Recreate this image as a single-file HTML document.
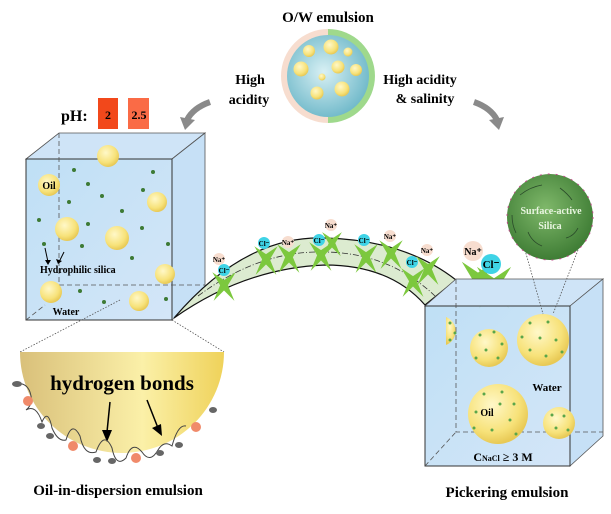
<!DOCTYPE html>
<html><head><meta charset="utf-8"><style>
html,body{margin:0;padding:0;background:#fff;}
svg{display:block;font-family:"Liberation Serif",serif;font-weight:bold;}
</style></head><body>
<svg width="611" height="514" viewBox="0 0 611 514" xmlns="http://www.w3.org/2000/svg">
<defs>
<radialGradient id="drop" cx="40%" cy="35%" r="65%"><stop offset="0" stop-color="#fff8c8"/><stop offset="0.7" stop-color="#f7e27a"/><stop offset="1" stop-color="#e8c955"/></radialGradient>
<radialGradient id="blue" cx="45%" cy="45%" r="60%"><stop offset="0" stop-color="#d8f0f4"/><stop offset="1" stop-color="#6cb7c8"/></radialGradient>
<radialGradient id="green" cx="45%" cy="40%" r="60%"><stop offset="0" stop-color="#7fb86a"/><stop offset="1" stop-color="#3f7d35"/></radialGradient>
<linearGradient id="box" x1="0" y1="0" x2="1" y2="1"><stop offset="0" stop-color="#b8dcf4"/><stop offset="1" stop-color="#cfe3f7"/></linearGradient>
<linearGradient id="hemi" x1="0" y1="0" x2="1" y2="0"><stop offset="0" stop-color="#d9c07a"/><stop offset="0.6" stop-color="#fbf0a8"/><stop offset="1" stop-color="#efd25a"/></linearGradient>
<path id="man" d="M0 -3 L-9 -9 L-3 1 L-8 13 L0 5 L8 13 L3 1 L9 -9 Z" fill="#7cc83e"/>
</defs>

<text x="328" y="22" font-size="15" text-anchor="middle">O/W emulsion</text>
<path d="M328 29 A47 47 0 0 0 328 123 Z" fill="#f7ddcf"/>
<path d="M328 29 A47 47 0 0 1 328 123 Z" fill="#9fd98c"/>
<circle cx="328" cy="76" r="41" fill="url(#blue)"/>
<g fill="url(#drop)">
<circle cx="309" cy="51" r="6"/><circle cx="331" cy="47" r="7.5"/><circle cx="348" cy="52" r="4.5"/>
<circle cx="301" cy="69" r="7.5"/><circle cx="338" cy="67" r="6.5"/><circle cx="356" cy="70" r="6"/>
<circle cx="322" cy="77" r="3.5"/><circle cx="317" cy="93" r="6.5"/><circle cx="342" cy="89" r="7.5"/>
</g>
<text x="250" y="84" font-size="14" text-anchor="middle">High</text>
<text x="249" y="104" font-size="14" text-anchor="middle">acidity</text>
<text x="420" y="84" font-size="14" text-anchor="middle">High acidity</text>
<text x="425" y="103" font-size="14" text-anchor="middle">&amp; salinity</text>
<path d="M210 102 Q193 108 187 120" stroke="#8a8a8a" stroke-width="6" fill="none"/>
<polygon points="180,117 195,120 185,130" fill="#8a8a8a"/>
<path d="M474 102 Q491 108 497 120" stroke="#8a8a8a" stroke-width="6" fill="none"/>
<polygon points="504,117 489,120 499,130" fill="#8a8a8a"/>

<text x="61" y="121" font-size="16">pH:</text>
<rect x="98" y="98" width="20" height="31" fill="#f2481b"/>
<rect x="128" y="98" width="21" height="31" fill="#fa6b46"/>
<text x="108" y="119" font-size="12" text-anchor="middle">2</text>
<text x="139" y="119" font-size="12" text-anchor="middle">2.5</text>

<polygon points="26,159 59,133 205,133 172,159" fill="#cfe4f7" stroke="#555" stroke-width="0.8"/>
<polygon points="172,159 205,133 205,290 172,320" fill="#c6e0f6" stroke="#555" stroke-width="0.8"/>
<rect x="26" y="159" width="146" height="161" fill="url(#box)" fill-opacity="0.9" stroke="#333" stroke-width="1"/>
<path d="M59 133 V285 H205" stroke="#555" stroke-dasharray="5,3" fill="none" stroke-width="0.8"/>
<line x1="26" y1="320" x2="45" y2="305" stroke="#555" stroke-dasharray="5,3" stroke-width="0.8"/>
<g fill="url(#drop)">
<circle cx="108" cy="156" r="11"/><circle cx="49" cy="185" r="11"/><circle cx="157" cy="202" r="10"/>
<circle cx="67" cy="229" r="12"/><circle cx="117" cy="238" r="12"/><circle cx="165" cy="274" r="10"/>
<circle cx="51" cy="292" r="11"/><circle cx="139" cy="301" r="10"/>
</g>
<g fill="#3d7a35">
<circle cx="74" cy="170" r="2"/><circle cx="153" cy="172" r="2"/><circle cx="88" cy="184" r="2"/><circle cx="102" cy="196" r="2"/>
<circle cx="143" cy="190" r="2"/><circle cx="69" cy="202" r="2"/><circle cx="122" cy="211" r="2"/><circle cx="39" cy="220" r="2"/>
<circle cx="88" cy="224" r="2"/><circle cx="142" cy="228" r="2"/><circle cx="44" cy="244" r="2"/><circle cx="82" cy="246" r="2"/>
<circle cx="132" cy="258" r="2"/><circle cx="168" cy="244" r="2"/><circle cx="80" cy="291" r="2"/><circle cx="104" cy="302" r="2"/><circle cx="166" cy="299" r="2"/>
</g>
<text x="49" y="189" font-size="10" text-anchor="middle">Oil</text>
<path d="M45 248 L48 262 M64 252 L59 262" stroke="#000" stroke-width="1"/>
<polygon points="45,260 48,265 51,260" fill="#000"/><polygon points="56,259 58,264 62,261" fill="#000"/>
<text x="40" y="273" font-size="10">Hydrophilic silica</text>
<text x="66" y="315" font-size="10" text-anchor="middle">Water</text>

<line x1="120" y1="300" x2="20" y2="352" stroke="#555" stroke-dasharray="1.5,1.5" stroke-width="0.8"/>
<line x1="172" y1="320" x2="224" y2="352" stroke="#555" stroke-dasharray="1.5,1.5" stroke-width="0.8"/>

<path d="M20 352 H224 A102 101 0 0 1 20 352 Z" fill="url(#hemi)"/>
<text x="122" y="390" font-size="21" text-anchor="middle">hydrogen bonds</text>
<line x1="110" y1="402" x2="107" y2="432" stroke="#000" stroke-width="1.5"/><polygon points="102,430 107,442 112,430" fill="#000"/>
<line x1="147" y1="400" x2="158" y2="428" stroke="#000" stroke-width="1.5"/><polygon points="152,428 162,436 161,424" fill="#000"/>
<path d="M16 384 q10 -2 14 8 q4 12 -4 18 q10 -6 16 12 q6 -14 10 6 q6 14 14 12 q6 -20 14 -4 q4 20 16 16 q8 -22 16 -4 q4 20 14 10 q6 -18 16 -6 q8 12 16 -2 q6 -10 14 -4 q6 -22 14 -20" stroke="#444" stroke-width="1" fill="none"/>
<g fill="#f08a6a"><circle cx="28" cy="401" r="5"/><circle cx="73" cy="446" r="5"/><circle cx="136" cy="458" r="5"/><circle cx="196" cy="427" r="5"/></g>
<g fill="#666"><ellipse cx="17" cy="384" rx="5" ry="3"/><ellipse cx="41" cy="426" rx="4" ry="3"/><ellipse cx="50" cy="436" rx="4" ry="3"/><ellipse cx="97" cy="460" rx="4" ry="3"/><ellipse cx="112" cy="461" rx="4" ry="3"/><ellipse cx="160" cy="453" rx="4" ry="3"/><ellipse cx="179" cy="445" rx="4" ry="3"/><ellipse cx="213" cy="410" rx="4" ry="3"/></g>
<text x="118" y="495" font-size="15" text-anchor="middle">Oil-in-dispersion emulsion</text>

<path d="M174 318 Q245 235 325 238 Q405 240 456 280 L425 305 Q390 265 325 265 Q245 268 174 318 Z" fill="#dcebd0" stroke="#111" stroke-width="1.2"/>
<path d="M198 296 Q260 250 325 252 Q390 253 435 296" stroke="#333" stroke-dasharray="6,2,1,2" fill="none" stroke-width="0.8"/>
<use href="#man" transform="translate(224,284) scale(1.3)"/>
<use href="#man" transform="translate(266,258) scale(1.3)"/>
<use href="#man" transform="translate(289,256) scale(1.3)"/>
<use href="#man" transform="translate(321,254) scale(1.3)"/>
<use href="#man" transform="translate(332,242) scale(1.1)"/>
<use href="#man" transform="translate(366,256) scale(1.3)"/>
<use href="#man" transform="translate(391,252) scale(1.3)"/>
<use href="#man" transform="translate(413,280) scale(1.3)"/>
<use href="#man" transform="translate(428,268) scale(1.3)"/>
<use href="#man" transform="translate(478,278) scale(1.8)"/>
<use href="#man" transform="translate(494,284) scale(1.9)"/>
<g font-size="7" text-anchor="middle">
<circle cx="219" cy="259" r="6" fill="#f7ddcf"/><text x="219" y="262">Na⁺</text>
<circle cx="224" cy="270" r="6" fill="#3fd3e6"/><text x="224" y="273">Cl⁻</text>
<circle cx="264" cy="243" r="6" fill="#3fd3e6"/><text x="264" y="246">Cl⁻</text>
<circle cx="288" cy="242" r="6" fill="#f7ddcf"/><text x="288" y="245">Na⁺</text>
<circle cx="319" cy="240" r="6" fill="#3fd3e6"/><text x="319" y="243">Cl⁻</text>
<circle cx="331" cy="225" r="6" fill="#f7ddcf"/><text x="331" y="228">Na⁺</text>
<circle cx="364" cy="240" r="6" fill="#3fd3e6"/><text x="364" y="243">Cl⁻</text>
<circle cx="390" cy="236" r="6" fill="#f7ddcf"/><text x="390" y="239">Na⁺</text>
<circle cx="412" cy="262" r="6" fill="#3fd3e6"/><text x="412" y="265">Cl⁻</text>
<circle cx="427" cy="250" r="6" fill="#f7ddcf"/><text x="427" y="253">Na⁺</text>
</g>
<circle cx="473" cy="251" r="10" fill="#f7ddcf"/><text x="473" y="255" font-size="10" text-anchor="middle">Na⁺</text>
<circle cx="491" cy="264" r="10" fill="#3fd3e6"/><text x="491" y="268" font-size="11" text-anchor="middle">Cl⁻</text>

<polygon points="425,306 456,279 603,279 570,306" fill="#cfe4f7" stroke="#555" stroke-width="0.8"/>
<polygon points="570,306 603,279 603,436 570,466" fill="#c6e0f6" stroke="#555" stroke-width="0.8"/>
<rect x="425" y="306" width="145" height="160" fill="url(#box)" fill-opacity="0.9" stroke="#333" stroke-width="1"/>
<path d="M456 279 V432 H603" stroke="#555" stroke-dasharray="5,3" fill="none" stroke-width="0.8"/>
<line x1="425" y1="466" x2="456" y2="432" stroke="#555" stroke-dasharray="5,3" stroke-width="0.8"/>
<g fill="url(#drop)">
<path d="M446 317 A15 15 0 0 1 446 345 Z"/>
<circle cx="489" cy="348" r="19"/><circle cx="543" cy="340" r="26"/><circle cx="498" cy="414" r="30"/><circle cx="559" cy="423" r="16"/>
</g>
<g fill="#5aa64a">
<circle cx="450" cy="323" r="1.5"/><circle cx="455" cy="333" r="1.5"/><circle cx="450" cy="340" r="1.5"/>
<circle cx="480" cy="335" r="1.5"/><circle cx="494" cy="332" r="1.5"/><circle cx="486" cy="350" r="1.5"/><circle cx="498" cy="358" r="1.5"/><circle cx="476" cy="358" r="1.5"/><circle cx="502" cy="344" r="1.5"/>
<circle cx="530" cy="323" r="1.5"/><circle cx="548" cy="322" r="1.5"/><circle cx="540" cy="338" r="1.5"/><circle cx="556" cy="340" r="1.5"/><circle cx="530" cy="350" r="1.5"/><circle cx="546" cy="356" r="1.5"/><circle cx="522" cy="337" r="1.5"/><circle cx="562" cy="352" r="1.5"/>
<circle cx="484" cy="394" r="1.5"/><circle cx="502" cy="392" r="1.5"/><circle cx="514" cy="404" r="1.5"/><circle cx="476" cy="412" r="1.5"/><circle cx="510" cy="420" r="1.5"/><circle cx="492" cy="430" r="1.5"/><circle cx="516" cy="434" r="1.5"/><circle cx="474" cy="428" r="1.5"/><circle cx="500" cy="404" r="1.5"/>
<circle cx="552" cy="415" r="1.5"/><circle cx="564" cy="416" r="1.5"/><circle cx="556" cy="428" r="1.5"/><circle cx="568" cy="430" r="1.5"/>
</g>
<text x="547" y="391" font-size="11" text-anchor="middle">Water</text>
<text x="487" y="416" font-size="10" text-anchor="middle">Oil</text>
<text x="503" y="461" font-size="12" text-anchor="middle">C<tspan font-size="8">NaCl</tspan> ≥ 3 M</text>
<text x="507" y="497" font-size="15" text-anchor="middle">Pickering emulsion</text>

<line x1="525" y1="250" x2="543" y2="314" stroke="#555" stroke-dasharray="1.5,1.5" stroke-width="0.8"/>
<line x1="578" y1="250" x2="553" y2="314" stroke="#555" stroke-dasharray="1.5,1.5" stroke-width="0.8"/>
<circle cx="550" cy="217" r="43" fill="url(#green)" stroke="#c04a8a" stroke-width="1" stroke-dasharray="2,6"/>
<g stroke="#2a4a2a" stroke-width="0.8" fill="none">
<path d="M520 195 q10 -8 22 -10"/><path d="M560 188 q8 6 12 12"/><path d="M528 232 q4 10 14 14"/><path d="M566 238 q8 -2 12 -10"/><path d="M512 215 q0 10 4 18"/>
</g>
<text x="551" y="214" font-size="10" fill="#e8f5e0" text-anchor="middle">Surface-active</text>
<text x="550" y="229" font-size="10" fill="#e8f5e0" text-anchor="middle">Silica</text>
</svg>
</body></html>
